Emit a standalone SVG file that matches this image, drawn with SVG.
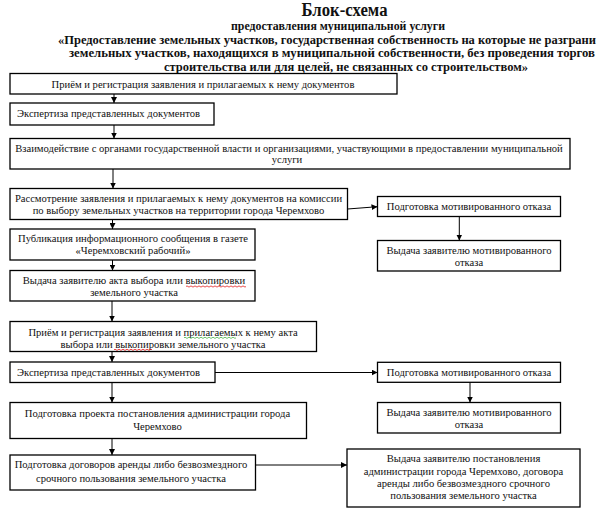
<svg xmlns="http://www.w3.org/2000/svg" width="600" height="516" viewBox="0 0 600 516">
<defs>
<marker id="ah" viewBox="0 0 10 10" refX="10" refY="5" markerWidth="6" markerHeight="6" markerUnits="userSpaceOnUse" orient="auto">
<path d="M0,0 L10,5 L0,10 z" fill="#000"/>
</marker>
</defs>
<style>
.bg{fill:#fff}
.box{fill:#fff;stroke:#000;stroke-width:1.3}
.t{font-family:"Liberation Serif","Times New Roman",serif;font-size:10.6px;fill:#111}
.c{text-anchor:middle}
.h{font-family:"Liberation Serif","Times New Roman",serif;font-weight:bold;fill:#111}
.con line{stroke:#000;stroke-width:1;marker-end:url(#ah)}
.sq{fill:none;stroke-width:0.7}
</style>
<rect class="bg" x="0" y="0" width="600" height="516"/>
<g id="title">
<text class="h" x="301.5" y="16" font-size="18.5" textLength="86" lengthAdjust="spacingAndGlyphs">Блок-схема</text>
<text class="h" x="231" y="30" font-size="12" textLength="214" lengthAdjust="spacingAndGlyphs">предоставления муниципальной услуги</text>
<text class="h" x="58" y="43.5" font-size="12.2" textLength="538" lengthAdjust="spacingAndGlyphs">«Предоставление земельных участков, государственная собственность на которые не разграни</text>
<text class="h" x="69" y="57" font-size="12.2" textLength="526" lengthAdjust="spacingAndGlyphs">земельных участков, находящихся в муниципальной собственности, без проведения торгов</text>
<text class="h" x="164" y="70.5" font-size="12.2" textLength="364" lengthAdjust="spacingAndGlyphs">строительства или для целей, не связанных со строительством»</text>
</g>
<g id="n1"><rect class="box" x="10" y="73.5" width="387" height="20.5"/>
<text class="t c" x="203" y="87.5">Приём и регистрация заявления и прилагаемых к нему документов</text></g>
<g id="n2"><rect class="box" x="10" y="103" width="204" height="22"/>
<text class="t" x="17" y="116.5">Экспертиза представленных документов</text></g>
<g id="n3"><rect class="box" x="10" y="138.5" width="560" height="30.5"/>
<text class="t c" x="289" y="151.5">Взаимодействие с органами государственной власти и организациями, участвующими в предоставлении муниципальной</text>
<text class="t c" x="287" y="163">услуги</text></g>
<g id="n4"><rect class="box" x="10" y="188.5" width="337.5" height="31"/>
<text class="t c" x="178.5" y="201.5">Рассмотрение заявления и прилагаемых к нему документов на комиссии</text>
<text class="t c" x="178.5" y="213.5">по выбору земельных участков на территории города Черемхово</text></g>
<g id="n5"><rect class="box" x="10" y="229" width="245" height="31"/>
<text class="t c" x="133" y="242">Публикация информационного сообщения в газете</text>
<text class="t c" x="133" y="254">«Черемховский рабочий»</text></g>
<g id="n6"><rect class="box" x="10" y="270.5" width="245" height="30.5"/>
<text class="t c" x="134" y="284">Выдача заявителю акта выбора или выкопировки</text>
<text class="t c" x="134" y="296">земельного участка</text>
<path class="sq" stroke="#d00" d="M186,286.5 q1,-1.2 2,0 t2,0 t2,0 t2,0 t2,0 t2,0 t2,0 t2,0 t2,0 t2,0 t2,0 t2,0 t2,0 t2,0 t2,0 t2,0 t2,0 t2,0 t2,0 t2,0 t2,0 t2,0 t2,0 t2,0 t2,0 t2,0 t2,0 t2,0 t2,0 t2,0"/></g>
<g id="n7"><rect class="box" x="10" y="321.5" width="306.5" height="30"/>
<text class="t c" x="163" y="335.5">Приём и регистрация заявления и прилагаемых к нему акта</text>
<text class="t c" x="163" y="347.5">выбора или выкопировки земельного участка</text>
<path class="sq" stroke="#3a3" d="M184,337.8 q1,-1.2 2,0 t2,0 t2,0 t2,0 t2,0 t2,0 t2,0 t2,0 t2,0 t2,0 t2,0 t2,0 t2,0 t2,0 t2,0 t2,0 t2,0 t2,0 t2,0 t2,0 t2,0 t2,0 t2,0 t2,0 t2,0 t2,0"/>
<path class="sq" stroke="#d00" d="M114,349.8 q1,-1.2 2,0 t2,0 t2,0 t2,0 t2,0 t2,0 t2,0 t2,0 t2,0 t2,0 t2,0 t2,0 t2,0 t2,0 t2,0 t2,0 t2,0 t2,0 t2,0"/></g>
<g id="n8"><rect class="box" x="10" y="362" width="205" height="20.5"/>
<text class="t" x="17" y="375.5">Экспертиза представленных документов</text></g>
<g id="n9"><rect class="box" x="10" y="402.5" width="296.5" height="36"/>
<text class="t c" x="157.5" y="416.5">Подготовка проекта постановления администрации  города</text>
<text class="t c" x="157.5" y="429.5">Черемхово</text></g>
<g id="n10"><rect class="box" x="10" y="455" width="245.5" height="35"/>
<text class="t c" x="131" y="468">Подготовка договоров аренды либо безвозмездного</text>
<text class="t c" x="131" y="481.5">срочного  пользования земельного участка</text></g>
<g id="r1"><rect class="box" x="377.5" y="196.5" width="183" height="20"/>
<text class="t c" x="469" y="210">Подготовка мотивированного отказа</text></g>
<g id="r2"><rect class="box" x="377.5" y="240.5" width="183" height="30.5"/>
<text class="t c" x="469" y="254">Выдача заявителю мотивированного</text>
<text class="t c" x="469" y="265.5">отказа</text></g>
<g id="r3"><rect class="box" x="377.5" y="362.3" width="183" height="20"/>
<text class="t c" x="469" y="375.5">Подготовка мотивированного отказа</text></g>
<g id="r4"><rect class="box" x="377.5" y="402.5" width="183" height="30.5"/>
<text class="t c" x="469" y="415.5">Выдача заявителю мотивированного</text>
<text class="t c" x="469" y="427.5">отказа</text></g>
<g id="r5"><rect class="box" x="347" y="449" width="233" height="58"/>
<text class="t c" x="463.5" y="462">Выдача  заявителю постановления</text>
<text class="t c" x="463.5" y="474.5">администрации города Черемхово,  договора</text>
<text class="t c" x="463.5" y="486.5">аренды либо безвозмездного срочного</text>
<text class="t c" x="463.5" y="498.5">пользования земельного участка</text></g>
<g id="connectors" class="con">
<line x1="114" y1="94" x2="114" y2="103"/>
<line x1="114" y1="125" x2="114" y2="138.5"/>
<line x1="113" y1="169" x2="113" y2="188.5"/>
<line x1="112.5" y1="219.5" x2="112.5" y2="229"/>
<line x1="112.5" y1="260" x2="112.5" y2="270.5"/>
<line x1="112" y1="301" x2="112" y2="321.5"/>
<line x1="112" y1="351.5" x2="112" y2="362"/>
<line x1="112" y1="382.5" x2="112" y2="402.5"/>
<line x1="112" y1="438.5" x2="112" y2="455"/>
<line x1="347.5" y1="209" x2="377.5" y2="206.7"/>
<line x1="459.3" y1="216.5" x2="459.3" y2="240.5"/>
<line x1="215" y1="372.5" x2="377.5" y2="372.5"/>
<line x1="470" y1="382.3" x2="470" y2="402.5"/>
<line x1="255.5" y1="465" x2="347" y2="465"/>
</g>
</svg>
